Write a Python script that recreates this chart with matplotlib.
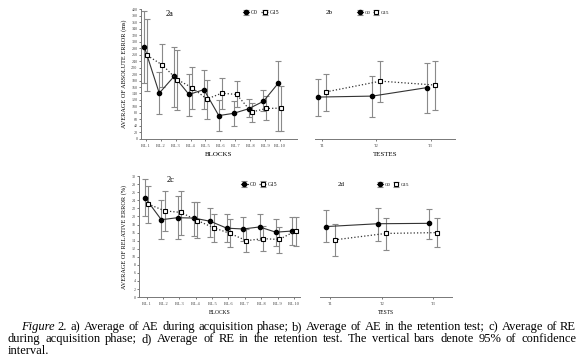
import matplotlib
matplotlib.use("Agg")
import matplotlib.pyplot as plt
import numpy as np

plt.rcParams['font.family'] = ['Liberation Serif', 'DejaVu Serif']

# Fig 2a - absolute error during acquisition (ms)
blocks = ["BL 1", "BL 2", "BL 3", "BL 4", "BL 5", "BL 6", "BL 7", "BL 8", "BL 9", "BL 10"]
ae_g0 = [283, 141, 193, 137, 152, 72, 79, 93, 116, 172]
ae_g0_lo = [172, 77, 98, 72, 92, 24, 39, 68, 85, 24]
ae_g0_hi = [393, 206, 283, 201, 211, 119, 117, 123, 152, 241]
ae_g15 = [257, 228, 183, 158, 123, 141, 137, 83, 94, 95]
ae_g15_lo = [147, 160, 90, 92, 62, 93, 97, 52, 57, 24]
ae_g15_hi = [370, 292, 275, 222, 183, 188, 177, 111, 132, 164]

# Fig 2b - absolute error in retention tests
tests = ["T1", "T2", "T3"]
aer_g0 = [129, 132, 158]
aer_g0_lo = [71, 67, 80]
aer_g0_hi = [186, 195, 235]
aer_g15 = [145, 178, 166]
aer_g15_lo = [86, 113, 89]
aer_g15_hi = [200, 240, 241]

# Fig 2c - relative error during acquisition (%)
re_g0 = [24.7, 19.2, 19.7, 19.6, 18.8, 17.1, 16.9, 17.4, 16.1, 16.4]
re_g0_lo = [20.0, 14.4, 14.4, 15.2, 14.8, 13.7, 13.9, 14.1, 12.7, 13.0]
re_g0_hi = [29.2, 24.1, 25.0, 23.7, 22.2, 20.5, 19.8, 20.5, 19.4, 19.8]
re_g15 = [23.1, 21.4, 21.0, 19.0, 17.2, 15.8, 14.0, 14.5, 14.3, 16.4]
re_g15_lo = [18.4, 16.4, 15.5, 14.7, 13.6, 12.5, 11.1, 11.4, 10.9, 12.8]
re_g15_hi = [27.5, 26.4, 26.3, 23.5, 20.7, 19.3, 17.0, 17.7, 17.4, 19.8]

# Fig 2d - relative error in retention tests
rer_g0 = [17.5, 18.2, 18.3]
rer_g0_lo = [13.6, 14.0, 14.5]
rer_g0_hi = [21.5, 22.1, 21.8]
rer_g15 = [14.2, 15.8, 16.0]
rer_g15_lo = [10.1, 11.7, 12.5]
rer_g15_hi = [18.2, 19.7, 19.7]

caption_lines = [
    "Figure 2. a) Average of AE during acquisition phase; b) Average of AE in the retention test; c) Average of RE",
    "during acquisition phase; d) Average of RE in the retention test. The vertical bars denote 95% of confidence",
    "interval.",
]

ebar_col = "#8a8a8a"
line_col = "#333333"


def draw(ax, labels, g0, g0_lo, g0_hi, g15, g15_lo, g15_hi, off):
    x = np.arange(1, len(labels) + 1)
    g0, g15 = np.array(g0), np.array(g15)
    e0 = [g0 - np.array(g0_lo), np.array(g0_hi) - g0]
    e15 = [g15 - np.array(g15_lo), np.array(g15_hi) - g15]
    ax.errorbar(x - off, g0, yerr=e0, fmt="-o", color=line_col, ecolor=ebar_col,
                elinewidth=0.8, capsize=2, capthick=0.8, lw=0.8, ms=3.0,
                mfc="black", mec="black", label="G0")
    ax.errorbar(x + off, g15, yerr=e15, fmt=":s", color=line_col, ecolor=ebar_col,
                elinewidth=0.8, capsize=2, capthick=0.8, lw=0.9, ms=3.0,
                mfc="white", mec="black", mew=0.8, label="G15")
    ax.set_xticks(x)
    ax.set_xticklabels(labels, fontsize=3.2)
    ax.tick_params(axis="x", length=1.5, width=0.5, pad=2, colors="#444444")
    ax.tick_params(axis="y", length=1.5, width=0.5, pad=1, labelsize=3, colors="#444444")
    for s in ["top", "right"]:
        ax.spines[s].set_visible(False)
    for s in ["left", "bottom"]:
        ax.spines[s].set_color("#777777")
        ax.spines[s].set_linewidth(0.7)


fig = plt.figure(figsize=(5.8, 3.61), dpi=100)

# panel a
ax_a = fig.add_axes([0.243, 0.615, 0.269, 0.36])
draw(ax_a, blocks, ae_g0, ae_g0_lo, ae_g0_hi, ae_g15, ae_g15_lo, ae_g15_hi, 0.1)
ax_a.set_xlim(0.67, 11.15)
ax_a.set_ylim(0, 400)
ax_a.set_yticks(np.arange(0, 401, 20))
ax_a.set_xlabel("BLOCKS", fontsize=5, labelpad=3)
ax_a.set_ylabel("AVERAGE OF ABSOLUTE ERROR (ms)", fontsize=4.5, labelpad=3)
ax_a.text(0.16, 0.96, "2a", transform=ax_a.transAxes, fontsize=6, va="center")
ax_a.legend(ncol=2, frameon=False, fontsize=4, loc="center left",
            bbox_to_anchor=(0.62, 0.97), handlelength=1.2, columnspacing=0.6,
            handletextpad=0.3)

# panel b
ax_b = fig.add_axes([0.543, 0.615, 0.241, 0.36])
draw(ax_b, tests, aer_g0, aer_g0_lo, aer_g0_hi, aer_g15, aer_g15_lo, aer_g15_hi, 0.075)
ax_b.set_xlim(0.87, 3.44)
ax_b.set_ylim(0, 400)
ax_b.spines["left"].set_visible(False)
ax_b.set_yticks([])
ax_b.set_xlabel("TESTES", fontsize=5, labelpad=3)
ax_b.text(0.08, 0.97, "2b", transform=ax_b.transAxes, fontsize=5, va="center")
ax_b.legend(ncol=2, frameon=False, fontsize=3.5, loc="center left",
            bbox_to_anchor=(0.27, 0.97), handlelength=1.2, columnspacing=0.6,
            handletextpad=0.3)

# panel c
ax_c = fig.add_axes([0.240, 0.177, 0.278, 0.335])
draw(ax_c, blocks, re_g0, re_g0_lo, re_g0_hi, re_g15, re_g15_lo, re_g15_hi, 0.1)
ax_c.set_xlim(0.55, 10.4)
ax_c.set_ylim(0, 30)
ax_c.set_yticks(np.arange(0, 31, 2))
ax_c.set_xlabel("BLOCKS", fontsize=4, labelpad=3)
ax_c.set_ylabel("AVERAGE OF RELATIVE ERROR (%)", fontsize=4.5, labelpad=3)
ax_c.text(0.17, 0.97, "2c", transform=ax_c.transAxes, fontsize=6, va="center")
ax_c.legend(ncol=2, frameon=False, fontsize=4, loc="center left",
            bbox_to_anchor=(0.6, 0.93), handlelength=1.2, columnspacing=0.6,
            handletextpad=0.3)

# panel d
ax_d = fig.add_axes([0.552, 0.177, 0.228, 0.335])
draw(ax_d, tests, rer_g0, rer_g0_lo, rer_g0_hi, rer_g15, rer_g15_lo, rer_g15_hi, 0.08)
ax_d.set_xlim(0.8, 3.37)
ax_d.set_ylim(0, 30)
ax_d.spines["left"].set_visible(False)
ax_d.set_yticks([])
ax_d.set_xlabel("TESTS", fontsize=4, labelpad=3)
ax_d.text(0.13, 0.93, "2d", transform=ax_d.transAxes, fontsize=5, va="center")
ax_d.legend(ncol=2, frameon=False, fontsize=3.5, loc="center left",
            bbox_to_anchor=(0.4, 0.93), handlelength=1.2, columnspacing=0.6,
            handletextpad=0.3)

# caption, justified by hand (word by word)
cap_fs = 9.0
W = 580.0
renderer = fig.canvas.get_renderer()


def put_line(text, x0, x1, ypix, justify=True):
    words = text.split(" ")
    y = 1 - ypix / 361
    arts = []
    for i, w in enumerate(words):
        style = "italic" if (i == 0 and w == "Figure") else "normal"
        arts.append(fig.text(0, y, w, fontsize=cap_fs, fontstyle=style, va="baseline"))
    widths = [a.get_window_extent(renderer).width for a in arts]
    if justify and len(words) > 1:
        gap = max((x1 - x0 - sum(widths)) / (len(words) - 1), 1.5)
    else:
        gap = cap_fs * 0.3
    x = x0
    for a, wd in zip(arts, widths):
        a.set_x(x / W)
        x += wd + gap


put_line(caption_lines[0], 21, 576, 330)
put_line(caption_lines[1], 8, 576, 342)
put_line(caption_lines[2], 8, 576, 354, justify=False)

fig.savefig("out.png", dpi=100)
plt.close(fig)
